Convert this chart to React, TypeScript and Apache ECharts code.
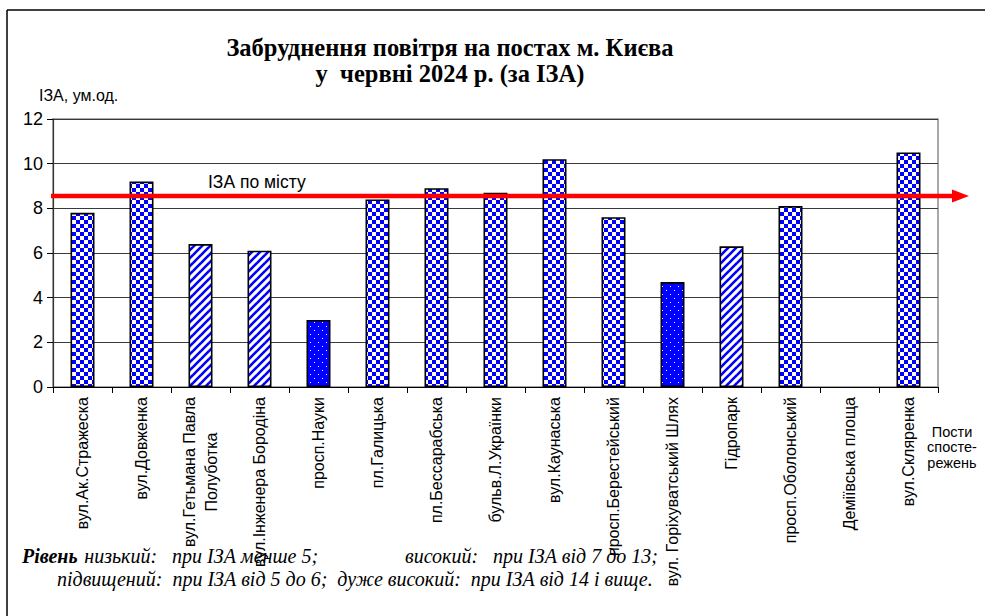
import React, { useEffect, useRef } from "react";
import * as echarts from "echarts";

// ---- data ----
const stations = [
  "вул.Ак.Стражеска",
  "вул.Довженка",
  "вул.Гетьмана Павла\nПолуботка",
  "вул.Інженера Бородіна",
  "просп.Науки",
  "пл.Галицька",
  "пл.Бессарабська",
  "бульв.Л.Українки",
  "вул.Каунаська",
  "просп.Берестейський",
  "вул. Горіхуватський Шлях",
  "Гідропарк",
  "просп.Оболонський",
  "Деміївська площа",
  "вул.Скляренка",
];
const izaValues: (number | null)[] = [7.8, 9.2, 6.4, 6.1, 3.0, 8.4, 8.9, 8.7, 10.2, 7.6, 4.7, 6.3, 8.1, null, 10.5];
const cityAverage = 8.55;
const yMin = 0;
const yMax = 12;
const yStep = 2;
const lowLimit = 5; // below: low level (dots)
const highLimit = 7; // from: high level (checks)

const titleLines = ["Забруднення повітря на постах м. Києва", "у  червні 2024 р. (за ІЗА)"];
const yAxisTitle = "ІЗА, ум.од.";
const xAxisTitle = "Пости\nспосте-\nрежень";
const avgLabel = "ІЗА по місту";
const noteLine1a = "низький:   при ІЗА менше 5;";
const noteLine1b = "високий:   при ІЗА від 7 до 13;";
const noteLine2 = "підвищений:  при ІЗА від 5 до 6;  дуже високий:  при ІЗА від 14 і вище.";

const SANS = "'Liberation Sans', Arial, sans-serif";
const SERIF = "'Liberation Serif', 'Times New Roman', serif";
const BLUE = "#0000ff";
const LABEL_FONT = `16px ${SANS}`;

function makePattern(kind: string) {
  const c = document.createElement("canvas");
  c.width = 8;
  c.height = 8;
  const g = c.getContext("2d")!;
  if (kind === "dot") {
    g.fillStyle = BLUE;
    g.fillRect(0, 0, 8, 8);
    g.fillStyle = "#ffffff";
    g.fillRect(2, 2, 1, 1);
    g.fillRect(6, 6, 1, 1);
  } else if (kind === "stripe") {
    g.fillStyle = "#ffffff";
    g.fillRect(0, 0, 8, 8);
    g.strokeStyle = BLUE;
    g.lineWidth = 2.6;
    for (const o of [-8, 0, 8]) {
      g.beginPath();
      g.moveTo(o - 1, 9);
      g.lineTo(o + 9, -1);
      g.stroke();
    }
  } else {
    g.fillStyle = "#ffffff";
    g.fillRect(0, 0, 8, 8);
    g.fillStyle = BLUE;
    g.fillRect(0, 0, 4, 4);
    g.fillRect(4, 4, 4, 4);
  }
  return { image: c.toDataURL(), repeat: "repeat", imageWidth: 8, imageHeight: 8 } as any;
}

function levelKind(v: number) {
  if (v < lowLimit) return "dot";
  if (v < highLimit) return "stripe";
  return "check";
}

// centre the lines of a multi-line rotated label (pad shorter lines with no-break spaces)
function centreLines(label: string) {
  const lines = label.split("\n");
  if (lines.length < 2) return label;
  const c = document.createElement("canvas").getContext("2d")!;
  c.font = LABEL_FONT;
  const widths = lines.map((l) => c.measureText(l).width);
  const maxW = Math.max(...widths);
  const sp = c.measureText("\u00A0").width || 4.4;
  return lines
    .map((l, i) => l + "\u00A0".repeat(Math.round((maxW - widths[i]) / 2 / sp)))
    .join("\n");
}

export default function App() {
  const ref = useRef<HTMLDivElement>(null);
  useEffect(() => {
    const chart = echarts.init(ref.current!, null, { renderer: "svg" });
    const patterns: Record<string, any> = {
      dot: makePattern("dot"),
      stripe: makePattern("stripe"),
      check: makePattern("check"),
    };
    const barData = izaValues.map((v) =>
      v == null ? "-" : { value: v, itemStyle: { color: patterns[levelKind(v)] } }
    );
    chart.setOption({
      animation: false,
      backgroundColor: "#ffffff",
      grid: {
        left: 53,
        top: 119,
        width: 885,
        height: 268,
        show: true,
        borderColor: "#8c8c8c",
        borderWidth: 1.5,
        backgroundColor: "transparent",
      },
      xAxis: {
        type: "category",
        data: stations,
        boundaryGap: true,
        axisLine: { show: true, lineStyle: { color: "#000", width: 1.2 } },
        axisTick: { show: true, length: 6, alignWithLabel: false, lineStyle: { color: "#000" } },
        axisLabel: {
          interval: 0,
          rotate: 90,
          margin: 10,
          fontSize: 16,
          fontFamily: SANS,
          color: "#000",
          lineHeight: 22,
          formatter: (v: string) => centreLines(v),
        },
      },
      yAxis: {
        type: "value",
        min: yMin,
        max: yMax,
        interval: yStep,
        axisLine: { show: true, lineStyle: { color: "#333", width: 1.2 } },
        axisTick: { show: true, length: 6, lineStyle: { color: "#000" } },
        axisLabel: { fontSize: 18, fontFamily: SANS, color: "#000", margin: 10 },
        splitLine: { show: true, lineStyle: { color: "#3a3a3a", width: 1 } },
      },
      series: [
        {
          type: "bar",
          data: barData,
          barWidth: 24,
          itemStyle: { borderColor: "#000", borderWidth: 1.6 },
        },
      ],
    });

    const yAvg = chart.convertToPixel({ yAxisIndex: 0 }, cityAverage) as number;
    const lineStart = 51;
    const arrowTip = 969;
    const arrowBase = 952;

    chart.setOption({
      graphic: [
        // outer frame
        { type: "line", shape: { x1: 7, y1: 10, x2: 985, y2: 10 }, style: { stroke: "#000", lineWidth: 1.5 } },
        { type: "line", shape: { x1: 7, y1: 10, x2: 7, y2: 616 }, style: { stroke: "#000", lineWidth: 1.5 } },
        // title
        {
          type: "text",
          x: 450,
          y: 47,
          style: { text: titleLines[0], font: `bold 24.5px ${SERIF}`, fill: "#000", textAlign: "center", textVerticalAlign: "middle" },
        },
        {
          type: "text",
          x: 450,
          y: 73,
          style: { text: titleLines[1], font: `bold 24.5px ${SERIF}`, fill: "#000", textAlign: "center", textVerticalAlign: "middle" },
        },
        // y axis title
        {
          type: "text",
          x: 39,
          y: 95,
          style: { text: yAxisTitle, font: `16px ${SANS}`, fill: "#000", textAlign: "left", textVerticalAlign: "middle" },
        },
        // x axis title
        {
          type: "text",
          x: 952,
          y: 447,
          style: {
            text: xAxisTitle,
            font: `14.5px ${SANS}`,
            lineHeight: 15.5,
            fill: "#000",
            textAlign: "center",
            textVerticalAlign: "middle",
          },
        },
        // city average arrow
        {
          type: "line",
          z: 100,
          shape: { x1: lineStart, y1: yAvg, x2: arrowBase + 1, y2: yAvg },
          style: { stroke: "#ff0000", lineWidth: 4.5 },
        },
        {
          type: "polygon",
          z: 100,
          shape: { points: [[arrowBase, yAvg - 6.5], [arrowTip, yAvg], [arrowBase, yAvg + 6.5]] },
          style: { fill: "#ff0000" },
        },
        {
          type: "text",
          z: 100,
          x: 208,
          y: yAvg - 14,
          style: { text: avgLabel, font: `17.5px ${SANS}`, fill: "#000", textAlign: "left", textVerticalAlign: "middle" },
        },
        // footer notes
        {
          type: "text",
          x: 22,
          y: 556,
          style: {
            text: `{b|Рівень}  {i|${noteLine1a}}`,
            textVerticalAlign: "middle",
            rich: {
              b: { font: `italic bold 20px ${SERIF}`, fill: "#000" },
              i: { font: `italic 20px ${SERIF}`, fill: "#000" },
            },
          },
        },
        {
          type: "text",
          x: 405,
          y: 556,
          style: { text: noteLine1b, font: `italic 20px ${SERIF}`, fill: "#000", textVerticalAlign: "middle" },
        },
        {
          type: "text",
          x: 57,
          y: 579,
          style: { text: noteLine2, font: `italic 20px ${SERIF}`, fill: "#000", textVerticalAlign: "middle" },
        },
      ],
    });
    return () => chart.dispose();
  }, []);
  return (
    <div
      ref={ref}
      style={{ position: "fixed", left: 0, top: 0, width: 985, height: 616, background: "#fff" }}
    />
  );
}
